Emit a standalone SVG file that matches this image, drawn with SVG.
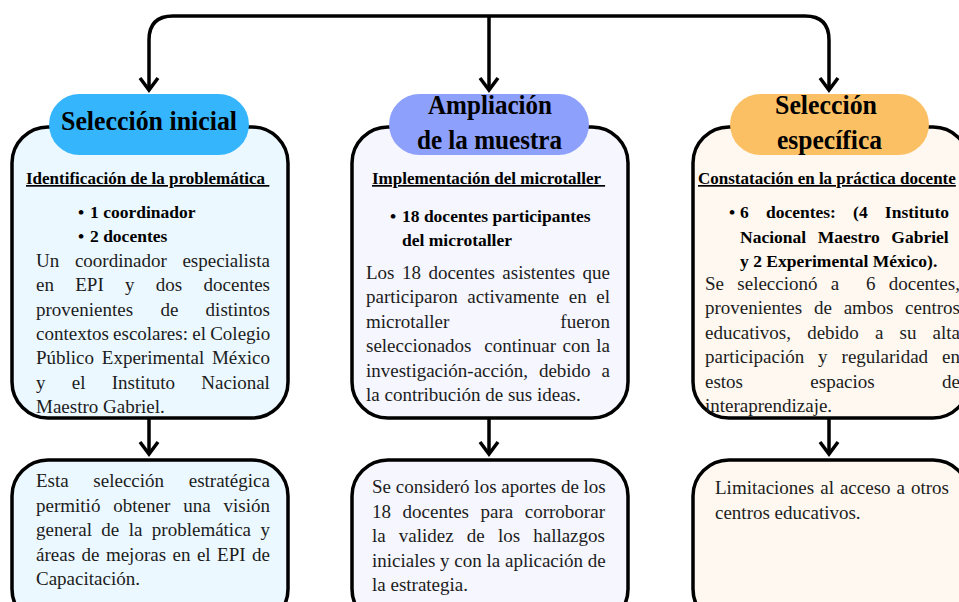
<svg xmlns="http://www.w3.org/2000/svg" width="959" height="602" viewBox="0 0 959 602">
  <style>
    text { font-family: "Liberation Serif", "Times New Roman", serif; }
    .box { stroke: #000; stroke-width: 3.5; }
    .body { font-size: 19px; fill: #1c1c1c; }
    .blt { font-size: 17.5px; font-weight: bold; fill: #000; }
    .sub { font-size: 17px; font-weight: bold; fill: #000; text-decoration: underline; white-space: pre; }
    .title { font-size: 27px; font-weight: bold; fill: #000; }
    .conn { fill: none; stroke: #000; stroke-width: 3.5; }
  </style>
  <defs>
    <marker id="arrow" markerUnits="userSpaceOnUse" markerWidth="30" markerHeight="30" refX="0" refY="0" orient="auto" overflow="visible">
      <path d="M-12,-9 L0,0 L-12,9" fill="none" stroke="#000" stroke-width="3.5" stroke-linejoin="miter"/>
    </marker>
  </defs>

  <!-- Column 1 -->
  <g id="node-identificacion">
    <rect class="box" x="12" y="127" width="276" height="291" rx="36" fill="#ebf8ff"/>
    <text class="sub" x="26" y="184">Identificación de la problemática </text>
    <text class="blt" x="78" y="218">•</text>
    <text class="blt" x="90" y="218">1 coordinador</text>
    <text class="blt" x="78" y="242">•</text>
    <text class="blt" x="90" y="242">2 docentes</text>
    <text class="body" x="36" y="267" style="word-spacing:10.94px">Un coordinador especialista</text>
    <text class="body" x="36" y="291.3" style="word-spacing:16.55px">en EPI y dos docentes</text>
    <text class="body" x="36" y="315.6" style="word-spacing:22.55px">provenientes de distintos</text>
    <text class="body" x="36" y="340" style="word-spacing:-0.5px">contextos escolares: el Colegio</text>
    <text class="body" x="36" y="364.3" style="word-spacing:3px">Público Experimental México</text>
    <text class="body" x="36" y="388.6" style="word-spacing:21.5px">y el Instituto Nacional</text>
    <text class="body" x="36" y="413">Maestro Gabriel.</text>
  </g>
  <g id="node-seleccion-inicial">
    <rect x="49" y="94" width="200" height="61" rx="30.5" fill="#35b5fc"/>
    <text class="title" x="61" y="130" textLength="176" lengthAdjust="spacingAndGlyphs">Selección inicial</text>
  </g>

  <!-- Column 2 -->
  <g id="node-implementacion">
    <rect class="box" x="352" y="127" width="276" height="291" rx="36" fill="#f5f6fe"/>
    <text class="sub" x="372" y="184">Implementación del microtaller </text>
    <text class="blt" x="390" y="222">•</text>
    <text class="blt" x="402" y="222">18 docentes participantes</text>
    <text class="blt" x="402" y="246">del microtaller</text>
    <text class="body" x="366" y="279" style="word-spacing:2.7px">Los 18 docentes asistentes que</text>
    <text class="body" x="366" y="303.4" style="word-spacing:4.82px">participaron activamente en el</text>
    <text class="body" x="366" y="327.8" style="word-spacing:106.25px">microtaller fueron</text>
    <text class="body" x="366" y="352.2" style="word-spacing:1.65px">seleccionados <tspan dx="6.4">continuar</tspan> con la</text>
    <text class="body" x="366" y="376.6" style="word-spacing:6.18px">investigación-acción, debido a</text>
    <text class="body" x="366" y="401">la contribución de sus ideas.</text>
  </g>
  <g id="node-ampliacion">
    <rect x="389" y="94" width="200" height="61" rx="30.5" fill="#8da0fb"/>
    <text class="title" x="428" y="114" textLength="124" lengthAdjust="spacingAndGlyphs">Ampliación</text>
    <text class="title" x="417" y="149" textLength="145" lengthAdjust="spacingAndGlyphs">de la muestra</text>
  </g>

  <!-- Column 3 -->
  <g id="node-constatacion">
    <rect class="box" x="693" y="127" width="276" height="291" rx="36" fill="#fef8f0"/>
    <text class="sub" x="698" y="184">Constatación en la práctica docente</text>
    <text class="blt" x="729" y="218">•</text>
    <text class="blt" x="740" y="218" style="word-spacing:12.8px">6 docentes: (4 Instituto</text>
    <text class="blt" x="740" y="242.5" style="word-spacing:7.28px">Nacional Maestro Gabriel</text>
    <text class="blt" x="740" y="267">y 2 Experimental México).</text>
    <text class="body" x="705" y="290" style="word-spacing:8.57px">Se seleccionó a <tspan dx="13.3">6</tspan> docentes,</text>
    <text class="body" x="705" y="314.4" style="word-spacing:7.08px">provenientes de ambos centros</text>
    <text class="body" x="705" y="338.8" style="word-spacing:11.38px">educativos, debido a su alta</text>
    <text class="body" x="705" y="363.2" style="word-spacing:9.19px">participación y regularidad en</text>
    <text class="body" x="705" y="387.6" style="word-spacing:62.6px">estos espacios de</text>
    <text class="body" x="705" y="412">interaprendizaje.</text>
  </g>
  <g id="node-seleccion-especifica">
    <rect x="730" y="94" width="199" height="61" rx="30.5" fill="#fbc064"/>
    <text class="title" x="775" y="114" textLength="102" lengthAdjust="spacingAndGlyphs">Selección</text>
    <text class="title" x="777" y="149" textLength="105" lengthAdjust="spacingAndGlyphs">específica</text>
  </g>

  <!-- Bottom boxes -->
  <g id="node-estrategica">
    <rect class="box" x="12" y="460" width="276" height="165" rx="36" fill="#ebf8ff"/>
    <text class="body" x="36" y="487" style="word-spacing:19.9px">Esta selección estratégica</text>
    <text class="body" x="36" y="511.5" style="word-spacing:8.15px">permitió obtener una visión</text>
    <text class="body" x="36" y="536" style="word-spacing:4.68px">general de la problemática y</text>
    <text class="body" x="36" y="560.5" style="word-spacing:1.72px">áreas de mejoras en el EPI de</text>
    <text class="body" x="36" y="585">Capacitación.</text>
  </g>
  <g id="node-aportes">
    <rect class="box" x="352" y="460" width="276" height="165" rx="36" fill="#f5f6fe"/>
    <text class="body" x="372" y="493">Se consideró los aportes de los</text>
    <text class="body" x="372" y="517.5" style="word-spacing:6.79px">18 docentes para corroborar</text>
    <text class="body" x="372" y="542" style="word-spacing:8.38px">la validez de los hallazgos</text>
    <text class="body" x="372" y="566.5">iniciales y con la aplicación de</text>
    <text class="body" x="372" y="591">la estrategia.</text>
  </g>
  <g id="node-limitaciones">
    <rect class="box" x="693" y="460" width="276" height="165" rx="36" fill="#fef8f0"/>
    <text class="body" x="715" y="494" style="word-spacing:1.25px">Limitaciones al acceso a otros</text>
    <text class="body" x="715" y="518.5">centros educativos.</text>
  </g>

  <!-- Connectors -->
  <g id="connectors">
    <path class="conn" d="M489,16 H173 Q149,16 149,40 V90" marker-end="url(#arrow)"/>
    <path class="conn" d="M489,16 H805 Q829,16 829,40 V90" marker-end="url(#arrow)"/>
    <path class="conn" d="M489,16 V90" marker-end="url(#arrow)"/>
    <path class="conn" d="M149,419 V454" marker-end="url(#arrow)"/>
    <path class="conn" d="M489,419 V454" marker-end="url(#arrow)"/>
    <path class="conn" d="M829,419 V454" marker-end="url(#arrow)"/>
  </g>
</svg>
